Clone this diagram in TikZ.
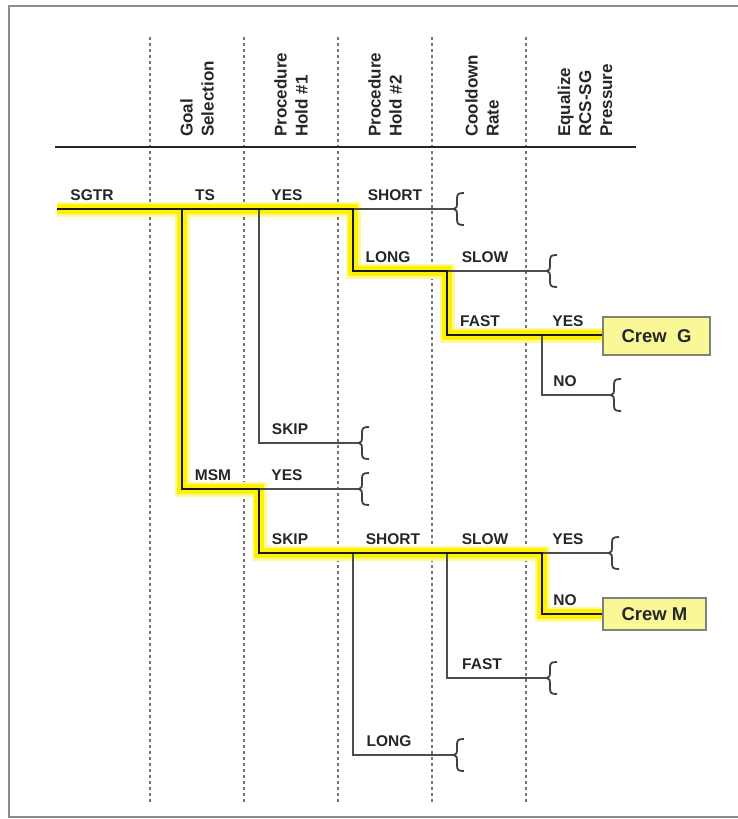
\documentclass[tikz,border=0pt]{standalone}
\usepackage{fontspec}
\setmainfont{Liberation Sans}
\begin{document}
\begin{tikzpicture}[x=1pt,y=-1pt,
  lbl/.style={font=\fontsize{15.5}{18}\selectfont\bfseries, text=black!85, anchor=base, inner sep=0pt},
  hdr/.style={font=\fontsize{17}{21}\selectfont\bfseries, text=black!85, rotate=90, anchor=west, align=left, inner sep=0pt},
  colline/.style={draw=black!55, line width=1.2pt, dash pattern=on 3pt off 3pt},
  glow/.style={draw=yellow!40, line width=15pt, line join=miter},
  hilite/.style={draw=yellow, line width=10pt, line join=miter},
  mainpath/.style={draw=black!90, line width=2.3pt},
  sidepath/.style={draw=black!70, line width=2pt},
  crew/.style={draw=black!50, fill={rgb,255:red,250;green,248;blue,150}, line width=1.2pt,
    font=\fontsize{18.5}{20}\selectfont\bfseries, text=black!85, inner sep=0pt},
  endbrace/.pic={\draw[black!75, line width=1.8pt] (9,-16) .. controls (3,-16) and (2,-15) .. (2,-10) -- (2,-5) .. controls (2,-2) .. (-1,0) .. controls (2,2) .. (2,5) -- (2,10) .. controls (2,15) and (3,16) .. (9,16);}
]
\useasboundingbox (0,0) rectangle (738,819);
% frame
\draw[black!45, line width=1.5pt] (738,6) -- (9,6) -- (9,817) -- (738,817);
% column separators
\foreach \cx in {150,244,338,432,526} \draw[colline] (\cx,37) -- (\cx,803);
% header
\draw[black!85, line width=2.2pt] (55,147) -- (636,147);
\node[hdr] (hGoal) at (197,137) {Goal\\Selection};
\node[hdr] (hP1) at (291,137) {Procedure\\Hold \#1};
\node[hdr] (hP2) at (385,137) {Procedure\\Hold \#2};
\node[hdr] (hCool) at (482,137) {Cooldown\\Rate};
\node[hdr] (hEq) at (585,137) {Equalize\\RCS-SG\\Pressure};

% coordinates
\coordinate (s0) at (57,209);
\coordinate (jTS) at (182,209);
\coordinate (jY1) at (259,209);
\coordinate (jH2) at (353,209);
\coordinate (bShort1) at (455,209);
\coordinate (k1) at (259,443);
\coordinate (bSkip1) at (360,443);
\coordinate (m1) at (182,489);
\coordinate (m2) at (259,489);
\coordinate (bYesM) at (360,489);
\coordinate (L1) at (353,271);
\coordinate (jC1) at (447,271);
\coordinate (bSlow1) at (548,271);
\coordinate (F1) at (447,335);
\coordinate (jE1) at (542,335);
\coordinate (N1) at (542,395);
\coordinate (bNo1) at (612,395);
\coordinate (p1) at (259,553);
\coordinate (jH2b) at (353,553);
\coordinate (jC2) at (447,553);
\coordinate (jE2) at (542,553);
\coordinate (bYes2) at (610,553);
\coordinate (N2) at (542,614);
\coordinate (F2) at (447,678);
\coordinate (bFast2) at (548,678);
\coordinate (L2) at (353,755);
\coordinate (bLong2) at (455,755);

\node[crew, minimum width=107pt, minimum height=38pt] (crewG) at (656.5,336) {Crew\ \ G};
\node[crew, minimum width=103pt, minimum height=32pt] (crewM) at (654.5,614) {Crew M};

% highlight
\begin{scope}[shift={(-1,1)}]
\draw[glow] (s0) -- (jH2) -- (L1) -- (jC1) -- (F1) -- (F1 -| crewG.west);
\draw[glow] (jTS) -- (m1) -- (m2) -- (p1) -- (jE2) -- (N2) -- (N2 -| crewM.west);
\draw[hilite] (s0) -- (jH2) -- (L1) -- (jC1) -- (F1) -- (F1 -| crewG.west);
\draw[hilite] (jTS) -- (m1) -- (m2) -- (p1) -- (jE2) -- (N2) -- (N2 -| crewM.west);
\end{scope}
\node[crew, minimum width=107pt, minimum height=38pt] at (crewG) {Crew\ \ G};
\node[crew, minimum width=103pt, minimum height=32pt] at (crewM) {Crew M};

% side branches
\draw[sidepath] (jH2) -- (bShort1);
\draw[sidepath] (jY1) -- (k1) -- (bSkip1);
\draw[sidepath] (m2) -- (bYesM);
\draw[sidepath] (jC1) -- (bSlow1);
\draw[sidepath] (jE1) -- (N1) -- (bNo1);
\draw[sidepath] (jE2) -- (bYes2);
\draw[sidepath] (jC2) -- (F2) -- (bFast2);
\draw[sidepath] (jH2b) -- (L2) -- (bLong2);
% main paths
\draw[mainpath] (s0) -- (jH2) -- (L1) -- (jC1) -- (F1) -- (F1 -| crewG.west);
\draw[mainpath] (jTS) -- (m1) -- (m2) -- (p1) -- (jE2) -- (N2) -- (N2 -| crewM.west);

% braces
\foreach \b in {bShort1,bSkip1,bYesM,bSlow1,bNo1,bYes2,bFast2,bLong2}
  \pic at (\b) {endbrace};

% labels
\node[lbl] (tSGTR) at (92,200) {SGTR};
\node[lbl] (tTS) at (205,200) {TS};
\node[lbl] (tYes1) at (287,200) {YES};
\node[lbl] (tShort1) at (395,200) {SHORT};
\node[lbl] (tLong1) at (388,262) {LONG};
\node[lbl] (tSlow1) at (485,262) {SLOW};
\node[lbl] (tFast1) at (480,326) {FAST};
\node[lbl] (tYes2) at (568,326) {YES};
\node[lbl] (tNo1) at (565,386) {NO};
\node[lbl] (tSkip1) at (290,434) {SKIP};
\node[lbl] (tMSM) at (213,480) {MSM};
\node[lbl] (tYes3) at (287,480) {YES};
\node[lbl] (tSkip2) at (290,544) {SKIP};
\node[lbl] (tShort2) at (393,544) {SHORT};
\node[lbl] (tSlow2) at (485,544) {SLOW};
\node[lbl] (tYes4) at (568,544) {YES};
\node[lbl] (tNo2) at (565,605) {NO};
\node[lbl] (tFast2) at (482,669) {FAST};
\node[lbl] (tLong2) at (389,746) {LONG};
\end{tikzpicture}
\end{document}
